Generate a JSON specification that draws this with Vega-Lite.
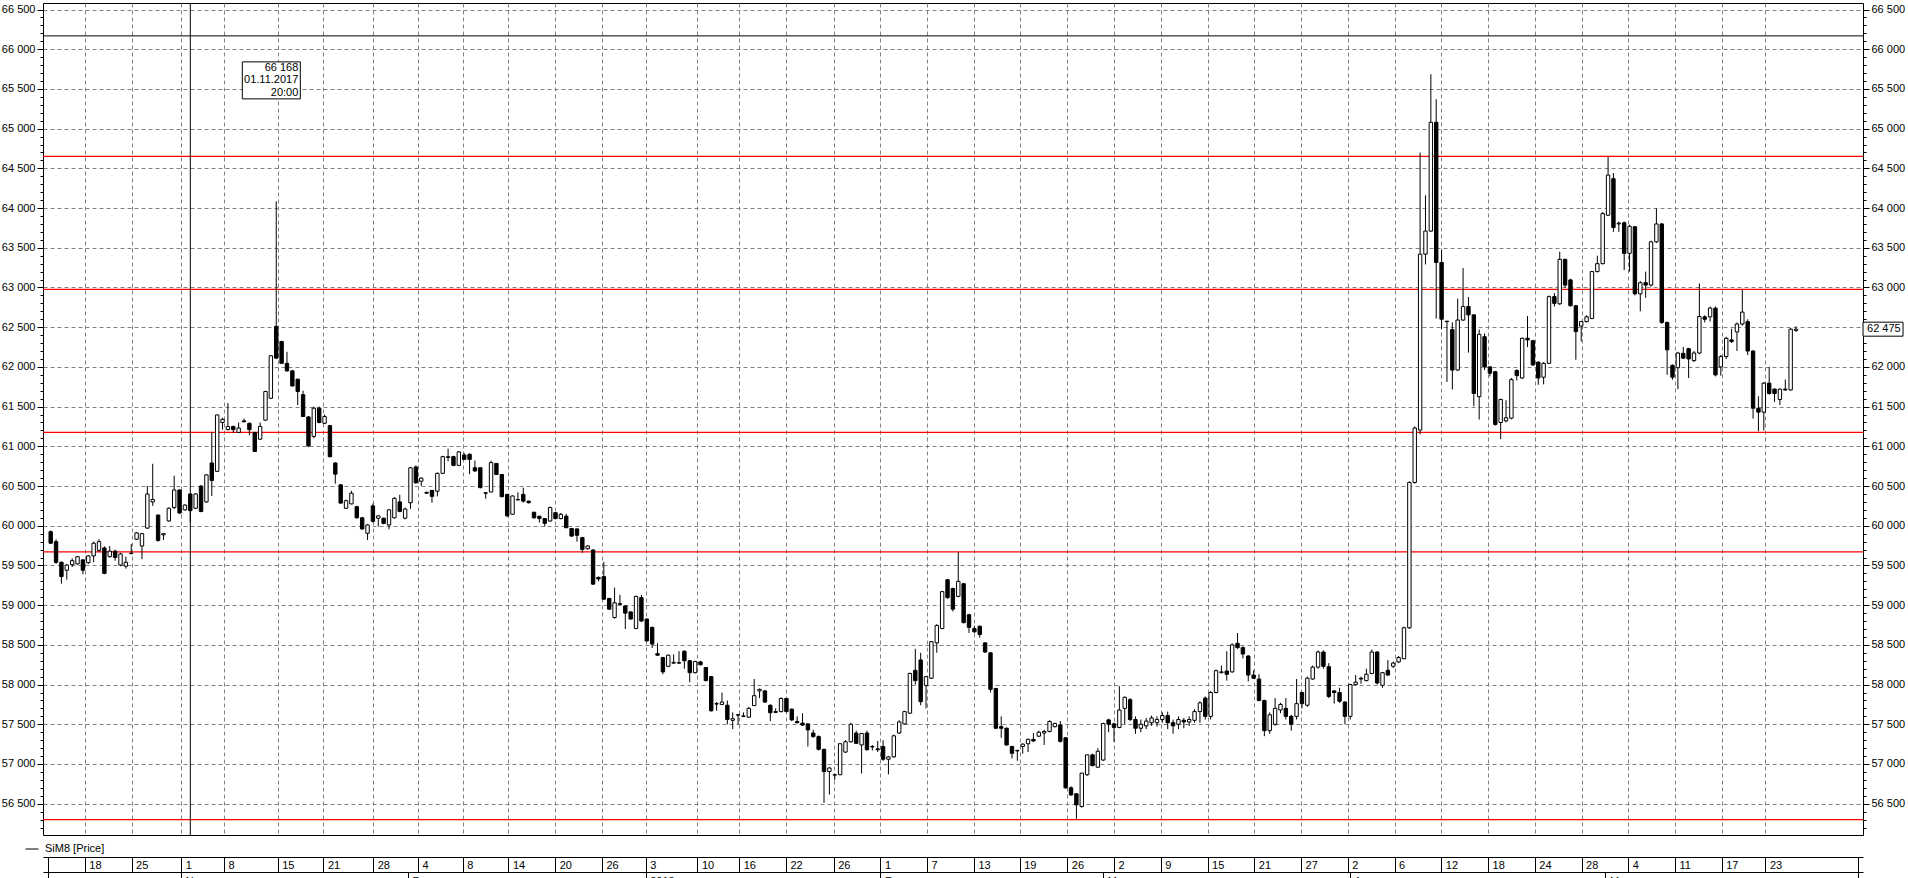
{
"$schema":"https://vega.github.io/schema/vega-lite/v6.json",
"width":1820,"height":832,
"autosize":{"type":"none"},
"padding":{"left":43,"top":3,"right":45,"bottom":43},
"background":"white",
"config":{"view":{"stroke":"black","strokeWidth":1},"axis":{"labelFont":"Liberation Sans","labelFontSize":11,"labelColor":"black","tickColor":"black","domainColor":"black","titleFont":"Liberation Sans"},"text":{"font":"Liberation Sans"}},
"datasets":{
"levels":[{"price":64650},{"price":62975},{"price":61175},{"price":59670},{"price":56300}],
"marker":[{"k":26,"price":66168,"label":"66 168\n01.11.2017\n20:00"}],
"last":[{"k":325,"price":62475,"label":"62 475"}],
"bars":[
{"k":0,"o":59925,"h":59940,"l":59770,"c":59780},{"k":1,"o":59800,"h":59830,"l":59520,"c":59540},{"k":2,"o":59540,"h":59550,"l":59270,"c":59360},{"k":3,"o":59440,"h":59520,"l":59320,"c":59505},{"k":4,"o":59510,"h":59590,"l":59480,"c":59560},{"k":5,"o":59520,"h":59620,"l":59510,"c":59610},{"k":6,"o":59570,"h":59580,"l":59390,"c":59440},{"k":7,"o":59535,"h":59630,"l":59520,"c":59620},{"k":8,"o":59620,"h":59800,"l":59540,"c":59780},{"k":9,"o":59690,"h":59830,"l":59670,"c":59800},
{"k":10,"o":59720,"h":59740,"l":59390,"c":59400},{"k":11,"o":59610,"h":59745,"l":59600,"c":59680},{"k":12,"o":59680,"h":59700,"l":59560,"c":59600},{"k":13,"o":59505,"h":59660,"l":59490,"c":59645},{"k":14,"o":59490,"h":59610,"l":59460,"c":59540},{"k":15,"o":59655,"h":59770,"l":59640,"c":59650},{"k":16,"o":59830,"h":59920,"l":59820,"c":59910},{"k":17,"o":59745,"h":59910,"l":59580,"c":59900},{"k":18,"o":59970,"h":60500,"l":59960,"c":60400},{"k":19,"o":60300,"h":60780,"l":60250,"c":60330},
{"k":20,"o":60135,"h":60140,"l":59800,"c":59815},{"k":21,"o":59885,"h":59905,"l":59820,"c":59900},{"k":22,"o":60060,"h":60230,"l":60050,"c":60220},{"k":23,"o":60230,"h":60630,"l":60210,"c":60450},{"k":24,"o":60450,"h":60460,"l":60150,"c":60160},{"k":25,"o":60200,"h":60270,"l":60190,"c":60260},{"k":26,"o":60400,"h":60410,"l":60040,"c":60190},{"k":27,"o":60220,"h":60410,"l":60210,"c":60400},{"k":28,"o":60500,"h":60510,"l":60170,"c":60180},{"k":29,"o":60300,"h":60650,"l":60290,"c":60640},
{"k":30,"o":60790,"h":61180,"l":60375,"c":60570},{"k":31,"o":60685,"h":61400,"l":60680,"c":61395},{"k":32,"o":61300,"h":61360,"l":61210,"c":61340},{"k":33,"o":61210,"h":61545,"l":61200,"c":61250},{"k":34,"o":61250,"h":61260,"l":61170,"c":61210},{"k":35,"o":61175,"h":61300,"l":61170,"c":61230},{"k":36,"o":61320,"h":61350,"l":61300,"c":61310},{"k":37,"o":61290,"h":61300,"l":61140,"c":61210},{"k":38,"o":61175,"h":61180,"l":60930,"c":60935},{"k":39,"o":61090,"h":61300,"l":61080,"c":61250},
{"k":40,"o":61330,"h":61700,"l":61320,"c":61690},{"k":41,"o":61605,"h":62150,"l":61600,"c":62140},{"k":42,"o":62510,"h":64085,"l":62100,"c":62110},{"k":43,"o":62320,"h":62330,"l":62040,"c":62045},{"k":44,"o":62045,"h":62190,"l":61940,"c":61950},{"k":45,"o":61950,"h":61960,"l":61750,"c":61760},{"k":46,"o":61845,"h":61850,"l":61520,"c":61690},{"k":47,"o":61650,"h":61700,"l":61370,"c":61375},{"k":48,"o":61370,"h":61380,"l":60990,"c":61005},{"k":49,"o":61125,"h":61500,"l":61100,"c":61480},
{"k":50,"o":61480,"h":61500,"l":61290,"c":61300},{"k":51,"o":61290,"h":61400,"l":61280,"c":61375},{"k":52,"o":61260,"h":61270,"l":60860,"c":60870},{"k":53,"o":60790,"h":60800,"l":60530,"c":60650},{"k":54,"o":60515,"h":60520,"l":60280,"c":60285},{"k":55,"o":60220,"h":60330,"l":60210,"c":60315},{"k":56,"o":60275,"h":60440,"l":60270,"c":60410},{"k":57,"o":60240,"h":60250,"l":60090,"c":60100},{"k":58,"o":60100,"h":60110,"l":59950,"c":59960},{"k":59,"o":59905,"h":60020,"l":59820,"c":60010},
{"k":60,"o":60250,"h":60280,"l":60040,"c":60055},{"k":61,"o":60095,"h":60130,"l":59990,"c":60125},{"k":62,"o":60095,"h":60100,"l":60020,"c":60030},{"k":63,"o":60010,"h":60210,"l":59955,"c":60200},{"k":64,"o":60100,"h":60360,"l":60090,"c":60345},{"k":65,"o":60300,"h":60390,"l":60170,"c":60180},{"k":66,"o":60095,"h":60230,"l":60080,"c":60210},{"k":67,"o":60290,"h":60740,"l":60215,"c":60730},{"k":68,"o":60740,"h":60760,"l":60530,"c":60540},{"k":69,"o":60560,"h":60610,"l":60500,"c":60600},
{"k":70,"o":60420,"h":60430,"l":60400,"c":60410},{"k":71,"o":60445,"h":60450,"l":60290,"c":60370},{"k":72,"o":60435,"h":60670,"l":60370,"c":60660},{"k":73,"o":60660,"h":60880,"l":60650,"c":60870},{"k":74,"o":60860,"h":60970,"l":60810,"c":60870},{"k":75,"o":60870,"h":60880,"l":60750,"c":60760},{"k":76,"o":60760,"h":60940,"l":60750,"c":60930},{"k":77,"o":60890,"h":60915,"l":60830,"c":60835},{"k":78,"o":60900,"h":60910,"l":60650,"c":60835},{"k":79,"o":60730,"h":60820,"l":60680,"c":60690},
{"k":80,"o":60730,"h":60740,"l":60470,"c":60480},{"k":81,"o":60415,"h":60420,"l":60340,"c":60410},{"k":82,"o":60425,"h":60820,"l":60420,"c":60795},{"k":83,"o":60785,"h":60790,"l":60640,"c":60645},{"k":84,"o":60645,"h":60650,"l":60360,"c":60365},{"k":85,"o":60395,"h":60400,"l":60110,"c":60125},{"k":86,"o":60145,"h":60380,"l":60140,"c":60375},{"k":87,"o":60325,"h":60420,"l":60320,"c":60330},{"k":88,"o":60395,"h":60480,"l":60290,"c":60310},{"k":89,"o":60310,"h":60315,"l":60280,"c":60290},
{"k":90,"o":60170,"h":60175,"l":60090,"c":60100},{"k":91,"o":60120,"h":60125,"l":60040,"c":60090},{"k":92,"o":60090,"h":60095,"l":59990,"c":60030},{"k":93,"o":60060,"h":60240,"l":60050,"c":60230},{"k":94,"o":60165,"h":60170,"l":60080,"c":60090},{"k":95,"o":60090,"h":60160,"l":60080,"c":60145},{"k":96,"o":60120,"h":60150,"l":59970,"c":59975},{"k":97,"o":59965,"h":59970,"l":59860,"c":59870},{"k":98,"o":59960,"h":59965,"l":59800,"c":59880},{"k":99,"o":59850,"h":59860,"l":59660,"c":59700},
{"k":100,"o":59710,"h":59755,"l":59700,"c":59745},{"k":101,"o":59695,"h":59700,"l":59255,"c":59265},{"k":102,"o":59350,"h":59360,"l":59300,"c":59330},{"k":103,"o":59360,"h":59545,"l":59070,"c":59075},{"k":104,"o":59085,"h":59090,"l":58940,"c":58950},{"k":105,"o":58845,"h":59220,"l":58830,"c":59030},{"k":106,"o":59010,"h":59130,"l":59000,"c":59020},{"k":107,"o":58990,"h":59000,"l":58700,"c":58900},{"k":108,"o":58915,"h":58920,"l":58820,"c":58825},{"k":109,"o":58705,"h":59120,"l":58700,"c":59110},
{"k":110,"o":59095,"h":59130,"l":58790,"c":58800},{"k":111,"o":58825,"h":58830,"l":58540,"c":58550},{"k":112,"o":58720,"h":58730,"l":58460,"c":58510},{"k":113,"o":58390,"h":58520,"l":58360,"c":58370},{"k":114,"o":58340,"h":58350,"l":58130,"c":58160},{"k":115,"o":58230,"h":58380,"l":58220,"c":58370},{"k":116,"o":58270,"h":58380,"l":58260,"c":58280},{"k":117,"o":58270,"h":58420,"l":58260,"c":58275},{"k":118,"o":58420,"h":58430,"l":58200,"c":58300},{"k":119,"o":58300,"h":58310,"l":58030,"c":58150},
{"k":120,"o":58150,"h":58300,"l":58140,"c":58290},{"k":121,"o":58285,"h":58300,"l":58240,"c":58250},{"k":122,"o":58215,"h":58220,"l":58040,"c":58050},{"k":123,"o":58100,"h":58110,"l":57660,"c":57670},{"k":124,"o":57755,"h":57780,"l":57670,"c":57760},{"k":125,"o":57750,"h":57900,"l":57740,"c":57780},{"k":126,"o":57740,"h":57800,"l":57500,"c":57560},{"k":127,"o":57550,"h":57650,"l":57440,"c":57570},{"k":128,"o":57620,"h":57630,"l":57500,"c":57615},{"k":129,"o":57600,"h":57650,"l":57590,"c":57605},
{"k":130,"o":57590,"h":57720,"l":57580,"c":57700},{"k":131,"o":57735,"h":58070,"l":57730,"c":57860},{"k":132,"o":57920,"h":57950,"l":57830,"c":57940},{"k":133,"o":57920,"h":57930,"l":57770,"c":57780},{"k":134,"o":57740,"h":57750,"l":57540,"c":57645},{"k":135,"o":57650,"h":57700,"l":57640,"c":57660},{"k":136,"o":57660,"h":57840,"l":57650,"c":57825},{"k":137,"o":57825,"h":57830,"l":57650,"c":57660},{"k":138,"o":57690,"h":57700,"l":57540,"c":57555},{"k":139,"o":57535,"h":57600,"l":57510,"c":57520},
{"k":140,"o":57515,"h":57640,"l":57480,"c":57490},{"k":141,"o":57505,"h":57510,"l":57220,"c":57430},{"k":142,"o":57390,"h":57430,"l":57330,"c":57345},{"k":143,"o":57345,"h":57360,"l":57170,"c":57185},{"k":144,"o":57185,"h":57190,"l":56510,"c":56905},{"k":145,"o":56905,"h":56960,"l":56615,"c":56950},{"k":146,"o":56860,"h":56880,"l":56800,"c":56865},{"k":147,"o":56865,"h":57260,"l":56860,"c":57255},{"k":148,"o":57150,"h":57300,"l":57140,"c":57280},{"k":149,"o":57280,"h":57520,"l":57270,"c":57500},
{"k":150,"o":57390,"h":57420,"l":57250,"c":57260},{"k":151,"o":57240,"h":57390,"l":56880,"c":57385},{"k":152,"o":57390,"h":57420,"l":57170,"c":57180},{"k":153,"o":57220,"h":57240,"l":57170,"c":57215},{"k":154,"o":57190,"h":57290,"l":57150,"c":57180},{"k":155,"o":57220,"h":57300,"l":57040,"c":57060},{"k":156,"o":57060,"h":57100,"l":56870,"c":57090},{"k":157,"o":57090,"h":57370,"l":57080,"c":57355},{"k":158,"o":57390,"h":57550,"l":57380,"c":57530},{"k":159,"o":57505,"h":57670,"l":57500,"c":57660},
{"k":160,"o":57640,"h":58150,"l":57630,"c":58140},{"k":161,"o":58180,"h":58450,"l":58000,"c":58050},{"k":162,"o":58310,"h":58400,"l":57740,"c":57785},{"k":163,"o":57990,"h":58110,"l":57700,"c":58100},{"k":164,"o":58080,"h":58550,"l":58070,"c":58540},{"k":165,"o":58525,"h":58760,"l":58400,"c":58745},{"k":166,"o":58705,"h":59180,"l":58700,"c":59170},{"k":167,"o":59320,"h":59330,"l":59080,"c":59095},{"k":168,"o":59210,"h":59220,"l":58920,"c":58950},{"k":169,"o":59110,"h":59667,"l":59100,"c":59300},
{"k":170,"o":59270,"h":59280,"l":58770,"c":58780},{"k":171,"o":58880,"h":58890,"l":58650,"c":58720},{"k":172,"o":58705,"h":58740,"l":58650,"c":58665},{"k":173,"o":58735,"h":58740,"l":58590,"c":58630},{"k":174,"o":58525,"h":58530,"l":58400,"c":58410},{"k":175,"o":58400,"h":58410,"l":57900,"c":57940},{"k":176,"o":57950,"h":57960,"l":57440,"c":57450},{"k":177,"o":57470,"h":57600,"l":57330,"c":57450},{"k":178,"o":57450,"h":57460,"l":57230,"c":57240},{"k":179,"o":57220,"h":57230,"l":57070,"c":57135},
{"k":180,"o":57170,"h":57180,"l":57040,"c":57165},{"k":181,"o":57220,"h":57260,"l":57130,"c":57250},{"k":182,"o":57255,"h":57320,"l":57150,"c":57310},{"k":183,"o":57310,"h":57390,"l":57280,"c":57290},{"k":184,"o":57350,"h":57420,"l":57340,"c":57400},{"k":185,"o":57390,"h":57430,"l":57240,"c":57410},{"k":186,"o":57410,"h":57550,"l":57400,"c":57535},{"k":187,"o":57470,"h":57520,"l":57460,"c":57510},{"k":188,"o":57490,"h":57540,"l":57270,"c":57285},{"k":189,"o":57330,"h":57340,"l":56690,"c":56700},
{"k":190,"o":56700,"h":56720,"l":56600,"c":56610},{"k":191,"o":56625,"h":56630,"l":56310,"c":56485},{"k":192,"o":56465,"h":56890,"l":56450,"c":56885},{"k":193,"o":56865,"h":57120,"l":56850,"c":57115},{"k":194,"o":57115,"h":57130,"l":56970,"c":56980},{"k":195,"o":56960,"h":57200,"l":56950,"c":57160},{"k":196,"o":57050,"h":57520,"l":57040,"c":57510},{"k":197,"o":57555,"h":57570,"l":57400,"c":57500},{"k":198,"o":57505,"h":57520,"l":57280,"c":57460},{"k":199,"o":57460,"h":57980,"l":57450,"c":57680},
{"k":200,"o":57700,"h":57850,"l":57500,"c":57840},{"k":201,"o":57810,"h":57830,"l":57540,"c":57560},{"k":202,"o":57560,"h":57600,"l":57380,"c":57450},{"k":203,"o":57450,"h":57560,"l":57400,"c":57500},{"k":204,"o":57480,"h":57580,"l":57440,"c":57540},{"k":205,"o":57520,"h":57610,"l":57480,"c":57580},{"k":206,"o":57520,"h":57600,"l":57470,"c":57560},{"k":207,"o":57560,"h":57650,"l":57520,"c":57610},{"k":208,"o":57610,"h":57660,"l":57440,"c":57520},{"k":209,"o":57520,"h":57560,"l":57380,"c":57480},
{"k":210,"o":57500,"h":57600,"l":57440,"c":57560},{"k":211,"o":57550,"h":57580,"l":57450,"c":57530},{"k":212,"o":57530,"h":57600,"l":57480,"c":57560},{"k":213,"o":57550,"h":57690,"l":57520,"c":57660},{"k":214,"o":57660,"h":57790,"l":57520,"c":57770},{"k":215,"o":57830,"h":57850,"l":57560,"c":57600},{"k":216,"o":57600,"h":57920,"l":57560,"c":57900},{"k":217,"o":57900,"h":58190,"l":57890,"c":58175},{"k":218,"o":58150,"h":58240,"l":58140,"c":58160},{"k":219,"o":58170,"h":58420,"l":58050,"c":58130},
{"k":220,"o":58160,"h":58520,"l":58150,"c":58500},{"k":221,"o":58520,"h":58650,"l":58450,"c":58465},{"k":222,"o":58465,"h":58480,"l":58330,"c":58385},{"k":223,"o":58360,"h":58370,"l":58040,"c":58120},{"k":224,"o":58120,"h":58180,"l":58070,"c":58080},{"k":225,"o":58070,"h":58130,"l":57790,"c":57800},{"k":226,"o":57800,"h":57810,"l":57350,"c":57420},{"k":227,"o":57420,"h":57650,"l":57380,"c":57620},{"k":228,"o":57500,"h":57830,"l":57480,"c":57700},{"k":229,"o":57680,"h":57770,"l":57640,"c":57750},
{"k":230,"o":57700,"h":57830,"l":57560,"c":57600},{"k":231,"o":57600,"h":57620,"l":57420,"c":57500},{"k":232,"o":57600,"h":58070,"l":57560,"c":57760},{"k":233,"o":57900,"h":57910,"l":57700,"c":57760},{"k":234,"o":57740,"h":58100,"l":57720,"c":58080},{"k":235,"o":58070,"h":58240,"l":58060,"c":58220},{"k":236,"o":58220,"h":58430,"l":58200,"c":58410},{"k":237,"o":58410,"h":58430,"l":58200,"c":58230},{"k":238,"o":58225,"h":58270,"l":57830,"c":57850},{"k":239,"o":57920,"h":57930,"l":57760,"c":57900},
{"k":240,"o":57900,"h":57960,"l":57770,"c":57790},{"k":241,"o":57780,"h":57790,"l":57500,"c":57600},{"k":242,"o":57600,"h":58010,"l":57560,"c":58000},{"k":243,"o":58000,"h":58120,"l":57990,"c":58030},{"k":244,"o":58080,"h":58100,"l":58010,"c":58070},{"k":245,"o":58050,"h":58200,"l":58040,"c":58130},{"k":246,"o":58140,"h":58440,"l":58130,"c":58410},{"k":247,"o":58410,"h":58420,"l":58000,"c":58020},{"k":248,"o":57990,"h":58160,"l":57960,"c":58150},{"k":249,"o":58180,"h":58310,"l":58110,"c":58120},
{"k":250,"o":58230,"h":58290,"l":58210,"c":58270},{"k":251,"o":58285,"h":58360,"l":58270,"c":58340},{"k":252,"o":58325,"h":58730,"l":58320,"c":58715},{"k":253,"o":58715,"h":60560,"l":58700,"c":60545},{"k":254,"o":60545,"h":61250,"l":60530,"c":61230},{"k":255,"o":61205,"h":64700,"l":61150,"c":63420},{"k":256,"o":63420,"h":64160,"l":63290,"c":63710},{"k":257,"o":63710,"h":65685,"l":63700,"c":65080},{"k":258,"o":65080,"h":65370,"l":62610,"c":63315},{"k":259,"o":63315,"h":63470,"l":62480,"c":62600},
{"k":260,"o":62575,"h":62580,"l":61810,"c":62570},{"k":261,"o":62470,"h":62560,"l":61715,"c":61960},{"k":262,"o":61960,"h":62860,"l":61950,"c":62590},{"k":263,"o":62590,"h":63245,"l":62580,"c":62760},{"k":264,"o":62760,"h":62880,"l":62180,"c":62655},{"k":265,"o":62655,"h":62660,"l":61505,"c":61665},{"k":266,"o":61625,"h":62470,"l":61337,"c":62410},{"k":267,"o":62380,"h":62420,"l":61960,"c":62000},{"k":268,"o":62000,"h":62010,"l":61880,"c":61920},{"k":269,"o":61940,"h":61950,"l":61260,"c":61275},
{"k":270,"o":61300,"h":61600,"l":61090,"c":61590},{"k":271,"o":61320,"h":61580,"l":61300,"c":61360},{"k":272,"o":61355,"h":61860,"l":61340,"c":61840},{"k":273,"o":61955,"h":61970,"l":61830,"c":61890},{"k":274,"o":61860,"h":62370,"l":61850,"c":62360},{"k":275,"o":62360,"h":62640,"l":62250,"c":62340},{"k":276,"o":62330,"h":62340,"l":62010,"c":62025},{"k":277,"o":62060,"h":62070,"l":61775,"c":61860},{"k":278,"o":61870,"h":62060,"l":61780,"c":62045},{"k":279,"o":62045,"h":62900,"l":62040,"c":62885},
{"k":280,"o":62885,"h":62930,"l":62760,"c":62800},{"k":281,"o":62795,"h":63450,"l":62780,"c":63355},{"k":282,"o":63355,"h":63360,"l":63000,"c":63030},{"k":283,"o":63095,"h":63110,"l":62760,"c":62770},{"k":284,"o":62770,"h":62780,"l":62090,"c":62445},{"k":285,"o":62515,"h":62580,"l":62320,"c":62570},{"k":286,"o":62570,"h":62650,"l":62560,"c":62630},{"k":287,"o":62610,"h":63210,"l":62600,"c":63200},{"k":288,"o":63200,"h":63400,"l":63190,"c":63300},{"k":289,"o":63300,"h":63950,"l":63290,"c":63930},
{"k":290,"o":63910,"h":64645,"l":63900,"c":64415},{"k":291,"o":64370,"h":64440,"l":63700,"c":63755},{"k":292,"o":63800,"h":63830,"l":63700,"c":63810},{"k":293,"o":63815,"h":63830,"l":63220,"c":63430},{"k":294,"o":63430,"h":63790,"l":63200,"c":63770},{"k":295,"o":63765,"h":63770,"l":62900,"c":62920},{"k":296,"o":62920,"h":63080,"l":62700,"c":63060},{"k":297,"o":63060,"h":63200,"l":62870,"c":63030},{"k":298,"o":63030,"h":63590,"l":63010,"c":63575},{"k":299,"o":63575,"h":63995,"l":63560,"c":63800},
{"k":300,"o":63800,"h":63810,"l":62540,"c":62560},{"k":301,"o":62560,"h":62570,"l":61900,"c":62215},{"k":302,"o":62020,"h":62030,"l":61840,"c":61870},{"k":303,"o":61990,"h":62190,"l":61720,"c":62175},{"k":304,"o":62170,"h":62250,"l":62100,"c":62110},{"k":305,"o":62230,"h":62240,"l":61860,"c":62100},{"k":306,"o":62080,"h":62200,"l":62060,"c":62175},{"k":307,"o":62175,"h":63050,"l":62160,"c":62635},{"k":308,"o":62630,"h":62650,"l":62560,"c":62600},{"k":309,"o":62630,"h":62760,"l":62570,"c":62740},
{"k":310,"o":62740,"h":62760,"l":61880,"c":61900},{"k":311,"o":62000,"h":62150,"l":61890,"c":62130},{"k":312,"o":62130,"h":62380,"l":62100,"c":62360},{"k":313,"o":62340,"h":62480,"l":62300,"c":62320},{"k":314,"o":62440,"h":62560,"l":62200,"c":62540},{"k":315,"o":62540,"h":62970,"l":62520,"c":62690},{"k":316,"o":62570,"h":62600,"l":62150,"c":62200},{"k":317,"o":62200,"h":62210,"l":61350,"c":61480},{"k":318,"o":61480,"h":61630,"l":61190,"c":61430},{"k":319,"o":61430,"h":61810,"l":61200,"c":61795},
{"k":320,"o":61795,"h":62000,"l":61650,"c":61665},{"k":321,"o":61720,"h":61730,"l":61560,"c":61665},{"k":322,"o":61590,"h":61730,"l":61520,"c":61720},{"k":323,"o":61720,"h":61840,"l":61700,"c":61710},{"k":324,"o":61710,"h":62490,"l":61700,"c":62475},{"k":325,"o":62460,"h":62510,"l":62440,"c":62475}
]},
"resolve":{"axis":{"x":"independent","y":"independent"}},
"layer":[
{"data":{"name":"levels"},"mark":{"type":"rule","color":"#ff0000","strokeWidth":1.2},
 "encoding":{"y":{"field":"price","type":"quantitative","scale":{"domain":[56106,66582],"nice":false,"zero":false},"axis":null}}},
{"data":{"name":"marker"},"mark":{"type":"rule","color":"black","strokeWidth":1},
 "encoding":{"y":{"field":"price","type":"quantitative","scale":{"domain":[56106,66582],"nice":false,"zero":false},"axis":null}}},
{"data":{"name":"marker"},"mark":{"type":"rule","color":"black","strokeWidth":1},
 "encoding":{"x":{"field":"k","type":"quantitative","scale":{"domain":[-0.5,336.54],"nice":false,"zero":false},"axis":null}}},
{"data":{"name":"bars"},"mark":{"type":"rule","strokeWidth":1},
 "encoding":{
  "x":{"field":"k","type":"quantitative","scale":{"domain":[-0.5,336.54],"nice":false,"zero":false},
   "axis":{"orient":"bottom","offset":22,"title":null,"domain":true,"values":[-0.5,6.35,15.06,24.31,32.28,42.28,50.8,60.06,68.39,76.72,85.24,93.94,102.65,110.8,120.43,128.2,136.91,145.8,154.5,163.2,171.91,180.43,189.31,198.02,206.72,215.43,224.13,232.83,241.54,250.24,258.94,267.65,276.35,285.06,293.76,302.46,311.17,319.31,336.54],
   "labelExpr":"['','18','25','1','8','15','21','28','4','8','14','20','26','3','10','16','22','26','1','7','13','19','26','2','9','15','21','27','2','6','12','18','24','28','4','11','17','23',''][indexof([-0.5,6.35,15.06,24.31,32.28,42.28,50.8,60.06,68.39,76.72,85.24,93.94,102.65,110.8,120.43,128.2,136.91,145.8,154.5,163.2,171.91,180.43,189.31,198.02,206.72,215.43,224.13,232.83,241.54,250.24,258.94,267.65,276.35,285.06,293.76,302.46,311.17,319.31,336.54], datum.value)]",
   "tickSize":15,"labelAlign":"left","labelBaseline":"top","labelPadding":-13,"labelOffset":4,"labelOverlap":false,"labelFlush":false,"labelBound":false,
   "grid":true,"gridColor":"#808080","gridDash":[4,3],"gridWidth":1,"gridOpacity":{"condition":{"test":"datum.value < 0 || datum.value > 336","value":0},"value":1}}},
  "y":{"field":"l","type":"quantitative","scale":{"domain":[56106,66582],"nice":false,"zero":false},
   "axis":{"orient":"left","title":null,"domain":false,"tickCount":105,"labelOverlap":false,"labelFlush":false,"labelPadding":2,
   "tickSize":{"condition":{"test":"datum.value % 500 === 0","value":6},"value":3},
   "labelExpr":"datum.value % 500 === 0 ? replace(format(datum.value, ','), ',', ' ') : ''",
   "grid":true,"gridColor":"#808080","gridDash":[4,3],"gridWidth":1,"gridOpacity":{"condition":{"test":"datum.value % 500 === 0","value":1},"value":0}}},
  "y2":{"field":"h"},
  "stroke":{"datum":"SiM8 [Price]","type":"nominal","scale":{"range":["black"]},
   "legend":{"orient":"none","legendX":-18,"legendY":839,"title":null,"symbolType":"stroke","symbolSize":169,"symbolStrokeWidth":1,"labelFontSize":11,"labelFont":"Liberation Sans","labelColor":"black","labelOffset":6,"padding":0}}
 }},
{"data":{"name":"bars"},"mark":{"type":"bar","size":3.4,"orient":"vertical","stroke":"black","strokeWidth":1},
 "encoding":{
  "x":{"field":"k","type":"quantitative","scale":{"domain":[-0.5,336.54],"nice":false,"zero":false},
   "axis":{"orient":"bottom","offset":37,"title":null,"domain":true,"values":[-0.5,24.31,66.54,110.8,154.5,195.98,241.91,289.5,336.54],
   "labelExpr":"['','N','D','2018','F','M','A','M',''][indexof([-0.5,24.31,66.54,110.8,154.5,195.98,241.91,289.5,336.54], datum.value)]",
   "tickSize":12,"labelAlign":"left","labelBaseline":"top","labelPadding":-9,"labelOffset":4,"labelOverlap":false,"labelFlush":false,"labelBound":false,"grid":false}},
  "y":{"field":"o","type":"quantitative","scale":{"domain":[56106,66582],"nice":false,"zero":false},
   "axis":{"orient":"right","title":null,"domain":false,"tickCount":105,"labelOverlap":false,"labelFlush":false,"labelPadding":2,
   "tickSize":{"condition":{"test":"datum.value % 500 === 0","value":6},"value":3},
   "labelExpr":"datum.value % 500 === 0 && datum.value !== 62500 ? replace(format(datum.value, ','), ',', ' ') : ''","grid":false}},
  "y2":{"field":"c"},
  "fill":{"condition":{"test":"datum.c >= datum.o","value":"white"},"value":"black"}
 }},
{"data":{"name":"marker"},"mark":{"type":"point","shape":"M-1,-0.638L1,-0.638L1,0.638L-1,0.638Z","size":3364,"filled":true,"fill":"white","stroke":"black","strokeWidth":1,"opacity":1,"xOffset":81,"yOffset":44.5},
 "encoding":{"x":{"field":"k","type":"quantitative","scale":{"domain":[-0.5,336.54],"nice":false,"zero":false},"axis":null},
  "y":{"field":"price","type":"quantitative","scale":{"domain":[56106,66582],"nice":false,"zero":false},"axis":null}}},
{"data":{"name":"marker"},"mark":{"type":"text","align":"right","baseline":"top","lineBreak":"\n","lineHeight":12.5,"fontSize":11,"font":"Liberation Sans","color":"black","xOffset":108,"yOffset":26},
 "encoding":{"x":{"field":"k","type":"quantitative","scale":{"domain":[-0.5,336.54],"nice":false,"zero":false},"axis":null},
  "y":{"field":"price","type":"quantitative","scale":{"domain":[56106,66582],"nice":false,"zero":false},"axis":null},
  "text":{"field":"label"}}},
{"data":{"name":"last"},"mark":{"type":"point","shape":"M-1,-0.35L1,-0.35L1,0.35L-1,0.35Z","size":1600,"filled":true,"fill":"white","stroke":"black","strokeWidth":1,"opacity":1,"xOffset":87},
 "encoding":{"x":{"field":"k","type":"quantitative","scale":{"domain":[-0.5,336.54],"nice":false,"zero":false},"axis":null},
  "y":{"field":"price","type":"quantitative","scale":{"domain":[56106,66582],"nice":false,"zero":false},"axis":null}}},
{"data":{"name":"last"},"mark":{"type":"text","align":"left","baseline":"middle","fontSize":11,"font":"Liberation Sans","color":"black","xOffset":71},
 "encoding":{"x":{"field":"k","type":"quantitative","scale":{"domain":[-0.5,336.54],"nice":false,"zero":false},"axis":null},
  "y":{"field":"price","type":"quantitative","scale":{"domain":[56106,66582],"nice":false,"zero":false},"axis":null},
  "text":{"field":"label"}}}
]
}
